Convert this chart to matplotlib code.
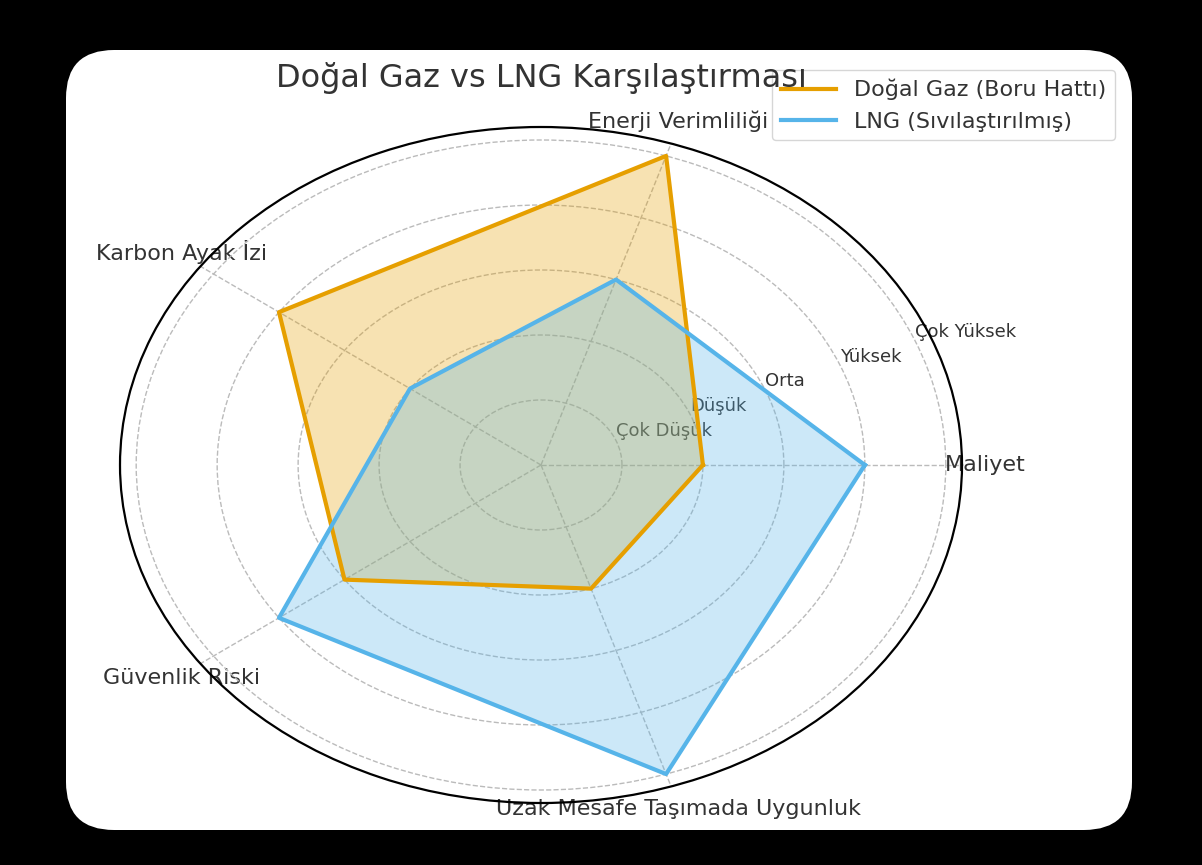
import numpy as np
import matplotlib
matplotlib.use("Agg")
import matplotlib.pyplot as plt
from matplotlib.patches import FancyBboxPatch

# Veriler
categories = ['Maliyet', 'Enerji Verimliliği', 'Karbon Ayak İzi',
              'Güvenlik Riski', 'Uzak Mesafe Taşımada Uygunluk']
dogal_gaz = [2, 5, 4, 3, 2]
lng = [4, 3, 2, 4, 5]
level_values = [1, 2, 3, 4, 5]
level_labels = ['Çok Düşük', 'Düşük', 'Orta', 'Yüksek', 'Çok Yüksek']
series_names = ['Doğal Gaz (Boru Hattı)', 'LNG (Sıvılaştırılmış)']
series_colors = ['#E69F00', '#56B4E9']

W, H = 1202, 865
TEXT = '#333333'

fig = plt.figure(figsize=(W / 100, H / 100), dpi=100, facecolor='black')

# beyaz yuvarlak kart (piksel koordinatlari)
card = FancyBboxPatch((66, H - 830), 1132 - 66, 830 - 50,
                      boxstyle='round,pad=0,rounding_size=48',
                      transform=None, facecolor='white', edgecolor='none',
                      zorder=0)
fig.add_artist(card)

cx, cy = 541, 465
rx, ry = 421, 338
ax = fig.add_axes([(cx - rx) / W, (H - cy - ry) / H, 2 * rx / W, 2 * ry / H],
                  projection='polar')
ax.set_aspect('auto')
ax.patch.set_alpha(0)

angles = np.linspace(0, 2 * np.pi, len(categories), endpoint=False)
closed = np.concatenate([angles, angles[:1]])

for vals, name, col in zip([dogal_gaz, lng], series_names, series_colors):
    v = np.concatenate([vals, vals[:1]])
    ax.fill(closed, v, color=col, alpha=0.3, zorder=2)
    ax.plot(closed, v, color=col, linewidth=3, label=name, zorder=3)

ax.set_ylim(0, 5.2)
ax.set_yticks(level_values)
ax.set_yticklabels(level_labels, fontsize=13, color=TEXT)
ax.set_xticks(angles)
ax.set_xticklabels(categories, fontsize=16, color=TEXT)
ax.tick_params(axis='x', pad=10, length=0)
ax.grid(color='#bbbbbb', linestyle='--', linewidth=1)
ax.spines['polar'].set_linewidth(1.6)
ax.spines['polar'].set_color('black')

fig.text(cx / W, (H - 87) / H, 'Doğal Gaz vs LNG Karşılaştırması',
         ha='center', va='baseline', fontsize=23, color=TEXT)

leg = ax.legend(loc='upper right', bbox_to_anchor=(1115 / W, (H - 70) / H),
                bbox_transform=fig.transFigure, fontsize=16, borderaxespad=0,
                handlelength=2.5)
for t in leg.get_texts():
    t.set_color(TEXT)

fig.savefig('out.png', dpi=100, facecolor='black')
